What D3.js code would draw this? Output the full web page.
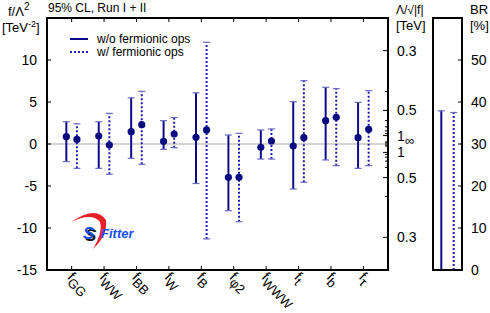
<!DOCTYPE html>
<html>
<head>
<meta charset="utf-8">
<script src="https://cdn.jsdelivr.net/npm/d3@7"></script>
<style>
  body { margin: 0; background: #fff; }
  svg { font-family: "Liberation Sans", Arial, Helvetica, sans-serif; }
</style>
</head>
<body>
<div id="chart"></div>
<script>
// operator names (subscripts of f)
const categories = ["GG", "WW", "BB", "W", "B", "φ2", "WWW", "t", "b", "τ"];

// w/o fermionic ops : best fit and 95% CL range
const noFermCentral = [0.87, 0.95, 1.47, 0.32, 0.8, -3.97, -0.4, -0.24, 2.78, 0.75];
const noFermLow     = [-2.1, -2.9, -1.7, -0.63, -4.7, -7.94, -1.79, -5.36, -1.9, -2.9];
const noFermHigh    = [2.65, 2.65, 5.5, 2.78, 6.1, 1.07, 1.67, 5.04, 6.75, 4.96];

// w/ fermionic ops
const fermCentral = [0.55, -0.12, 2.3, 1.19, 1.67, -3.97, 0.36, 0.75, 3.17, 1.75];
const fermLow     = [-2.9, -3.6, -2.42, -0.44, -11.3, -9.25, -1.79, -4.56, -2.58, -2.58];
const fermHigh    = [2.4, 3.65, 6.27, 3.15, 12.1, 1.27, 1.79, 7.54, 6.6, 6.35];

// invisible branching ratio upper limits [%]
const brSeries = ["w/o", "w/"];
const brUpper = [37.9, 37.5];

const yTicks = [-15, -10, -5, 0, 5, 10];
const lambdaLabels = [0.3, 0.5, 1];
const lambdaMinor = [0.3, 0.4, 0.5, 0.6, 0.7, 0.8, 0.9, 1, 2, 3];
const brTicks = [0, 10, 20, 30, 40, 50];

const W = 490, H = 313;
const m = { left: 47, right: 388, top: 18, bottom: 270 };
const solidCol = "#0c0c8a", dotCol = "#1c1cb4", capCol = "#6a6ac4";

const svg = d3.select("#chart").append("svg")
  .attr("width", W).attr("height", H);

const x = d3.scalePoint().domain(d3.range(categories.length))
  .range([m.left, m.right]).padding(0.76);
const y = d3.scaleLinear().domain([-15, 15]).range([m.bottom, m.top]);
const off = 5.3;

// zero line
svg.append("line")
  .attr("x1", m.left).attr("x2", m.right)
  .attr("y1", y(0)).attr("y2", y(0))
  .attr("stroke", "#aaa").attr("stroke-width", 1.2);

// logo
const logo = svg.append("g");
logo.append("path")
  .attr("d", "M71,222 Q96,205 106,220 Q108,235 93,249 Q103,232 100,222 Q92,212 71,222 Z")
  .attr("fill", "#e8202a");
logo.append("text").attr("x", 83).attr("y", 239)
  .attr("font-size", 17).attr("font-weight", "bold").attr("font-style", "italic")
  .attr("fill", "#1a4df0").style("text-shadow", "2px 2px 0 #111").text("S");
logo.append("text").attr("x", 101).attr("y", 238)
  .attr("font-size", 13).attr("font-weight", "bold").attr("font-style", "italic")
  .attr("fill", "#1a4df0").text("Fitter");

// error bars
function drawSeries(central, low, high, dx, col, dash) {
  const g = svg.append("g");
  const idx = d3.range(categories.length);
  g.selectAll("line.bar").data(idx).enter().append("line")
    .attr("x1", i => x(i) + dx).attr("x2", i => x(i) + dx)
    .attr("y1", i => y(low[i])).attr("y2", i => y(high[i]))
    .attr("stroke", col).attr("stroke-width", 2)
    .attr("stroke-dasharray", dash);
  [low, high].forEach(arr => {
    g.selectAll(null).data(idx).enter().append("line")
      .attr("x1", i => x(i) + dx - 3.5).attr("x2", i => x(i) + dx + 3.5)
      .attr("y1", i => y(arr[i])).attr("y2", i => y(arr[i]))
      .attr("stroke", capCol).attr("stroke-width", 1.2);
  });
  g.selectAll("circle").data(idx).enter().append("circle")
    .attr("cx", i => x(i) + dx).attr("cy", i => y(central[i]))
    .attr("r", 3.6).attr("fill", "#0a0a80");
}
drawSeries(noFermCentral, noFermLow, noFermHigh, -off, solidCol, null);
drawSeries(fermCentral, fermLow, fermHigh, off, dotCol, "2,2");

// frame
svg.append("rect")
  .attr("x", m.left).attr("y", m.top)
  .attr("width", m.right - m.left).attr("height", m.bottom - m.top)
  .attr("fill", "none").attr("stroke", "#000").attr("stroke-width", 2);

// left axis
svg.append("g").selectAll("line").data(yTicks.slice(1)).enter().append("line")
  .attr("x1", m.left).attr("x2", m.left + 4)
  .attr("y1", d => y(d)).attr("y2", d => y(d)).attr("stroke", "#000");
svg.append("g").selectAll("text").data(yTicks).enter().append("text")
  .attr("x", m.left - 10).attr("y", d => y(d) + 5)
  .attr("text-anchor", "end").attr("font-size", 14).text(d => d);

// top / bottom category ticks
d3.range(categories.length).forEach(i => {
  svg.append("line").attr("x1", x(i)).attr("x2", x(i))
    .attr("y1", m.bottom).attr("y2", m.bottom - 4).attr("stroke", "#000");
  svg.append("line").attr("x1", x(i)).attr("x2", x(i))
    .attr("y1", m.top).attr("y2", m.top + 4).attr("stroke", "#000");
});

// category labels, rotated 45 degrees
svg.append("g").selectAll("text").data(categories).enter().append("text")
  .attr("transform", (d, i) => "translate(" + (x(i) - 5) + "," + (m.bottom + 8) + ") rotate(45)")
  .attr("font-size", 14)
  .each(function (d) {
    const t = d3.select(this);
    t.append("tspan").text("f");
    t.append("tspan").attr("dy", 4).attr("font-size", 13).text(d);
  });

// right axis: Lambda / sqrt|f|
const rightTicks = [];
lambdaMinor.forEach(l => { rightTicks.push(1 / (l * l)); rightTicks.push(-1 / (l * l)); });
svg.append("g").selectAll("line").data(rightTicks.filter(f => Math.abs(f) <= 15)).enter().append("line")
  .attr("x1", m.right).attr("x2", d => m.right - (lambdaLabels.includes(+(1 / Math.sqrt(Math.abs(d))).toFixed(2)) ? 5 : 3))
  .attr("y1", d => y(d)).attr("y2", d => y(d)).attr("stroke", "#000");
const rightLabels = [];
lambdaLabels.forEach(l => {
  rightLabels.push({ f: 1 / (l * l), t: l });
  rightLabels.push({ f: -1 / (l * l), t: l });
});
svg.append("g").selectAll("text").data(rightLabels).enter().append("text")
  .attr("x", m.right + 9).attr("y", d => y(d.f) + 5)
  .attr("font-size", 14).text(d => d.t);
svg.append("text").attr("x", m.right + 17).attr("y", y(0) + 1)
  .attr("font-size", 13).text("∞");

// axis titles
svg.append("text").attr("x", 48).attr("y", 12).attr("font-size", 12).text("95% CL, Run I + II");
svg.append("text").attr("x", 8).attr("y", 16).attr("font-size", 13)
  .html('f/Λ<tspan dy="-6" font-size="10">2</tspan>');
svg.append("text").attr("x", 2).attr("y", 32).attr("font-size", 13)
  .html('[TeV<tspan dy="-5" font-size="9">-2</tspan><tspan dy="5">]</tspan>');
svg.append("text").attr("x", 396).attr("y", 14).attr("font-size", 12).text("Λ/√|f|");
svg.append("text").attr("x", 396).attr("y", 30).attr("font-size", 13).text("[TeV]");

// legend
const leg = [{ t: "w/o fermionic ops", dash: null, c: solidCol }, { t: "w/ fermionic ops", dash: "2,2", c: dotCol }];
leg.forEach((d, i) => {
  svg.append("line").attr("x1", 70).attr("x2", 88)
    .attr("y1", 39 + i * 13).attr("y2", 39 + i * 13)
    .attr("stroke", d.c).attr("stroke-width", 2).attr("stroke-dasharray", d.dash);
  svg.append("text").attr("x", 97).attr("y", 43 + i * 13)
    .attr("font-size", 12).text(d.t);
});

// BR panel
const br = { left: 433, right: 462 };
const yBR = d3.scaleLinear().domain([0, 60]).range([m.bottom, m.top]);
const xBR = d3.scalePoint().domain(brSeries).range([br.left, br.right]).padding(0.67);
brSeries.forEach((s, i) => {
  svg.append("line").attr("x1", xBR(s)).attr("x2", xBR(s))
    .attr("y1", yBR(0)).attr("y2", yBR(brUpper[i]))
    .attr("stroke", i ? dotCol : solidCol).attr("stroke-width", 2)
    .attr("stroke-dasharray", i ? "2,2" : null);
  svg.append("line").attr("x1", xBR(s) - 3.5).attr("x2", xBR(s) + 3.5)
    .attr("y1", yBR(brUpper[i])).attr("y2", yBR(brUpper[i]))
    .attr("stroke", capCol).attr("stroke-width", 1.2);
});
svg.append("rect").attr("x", br.left).attr("y", m.top)
  .attr("width", br.right - br.left).attr("height", m.bottom - m.top)
  .attr("fill", "none").attr("stroke", "#000").attr("stroke-width", 2);
svg.append("g").selectAll("line").data(brTicks.slice(1)).enter().append("line")
  .attr("x1", br.right).attr("x2", br.right - 4)
  .attr("y1", d => yBR(d)).attr("y2", d => yBR(d)).attr("stroke", "#000");
svg.append("g").selectAll("text").data(brTicks).enter().append("text")
  .attr("x", br.right + 9).attr("y", d => yBR(d) + 5)
  .attr("font-size", 14).text(d => d);
svg.append("text").attr("x", 470).attr("y", 14).attr("font-size", 13).text("BR");
svg.append("text").attr("x", 470).attr("y", 30).attr("font-size", 13).text("[%]");
</script>
</body>
</html>
